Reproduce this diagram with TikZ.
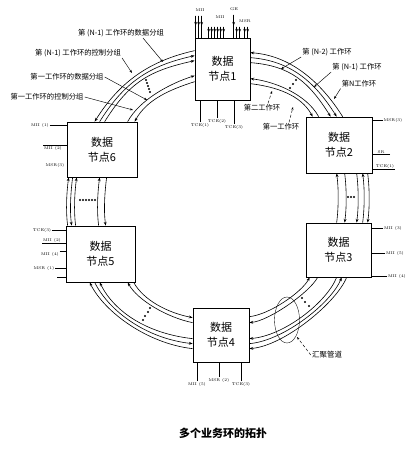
\documentclass[tikz,border=0pt]{standalone}
\usepackage{fontspec}
\newfontfamily\cjk{Noto Sans CJK SC}
\usetikzlibrary{arrows.meta,calc}

\tikzstyle{data node}=[draw, line width=0.7pt, inner sep=0pt, align=center, font=\cjk\fontsize{11}{15}\selectfont]
\tikzstyle{link}=[line width=0.6pt, >={Stealth[length=3.8pt,width=2.8pt]}]
\tikzstyle{port}=[font=\fontsize{4}{5}\selectfont, inner sep=0.6pt]
\tikzstyle{ring label}=[font=\cjk\fontsize{7.3}{8}\selectfont, inner sep=1pt]
\tikzstyle{leader}=[line width=0.45pt, -{Stealth[length=3pt,width=2.2pt]}]

\begin{document}
\begin{tikzpicture}[x=1pt, y=-1pt]
	\useasboundingbox (0,0) rectangle (415,450);

	% Data nodes of the ring
	\node[data node, minimum width=55pt, minimum height=62pt] (n1) at (222.5, 69) {数据\\节点1};
	\node[data node, minimum width=66pt, minimum height=56pt] (n2) at (339, 145) {数据\\节点2};
	\node[data node, minimum width=65pt, minimum height=54pt] (n3) at (338.5, 250) {数据\\节点3};
	\node[data node, minimum width=56pt, minimum height=54pt] (n4) at (221, 335) {数据\\节点4};
	\node[data node, minimum width=69pt, minimum height=56pt] (n5) at (100.5, 254) {数据\\节点5};
	\node[data node, minimum width=70pt, minimum height=55pt] (n6) at (102, 149.5) {数据\\节点6};

	% Node 6 -- node 1
	\foreach \a/\b in {33/18, 38/23}
		\draw[link,->] ($(n6.north west)+(\a,0)$) .. controls +(25,-40) and +(-45,10) .. ($(n1.north west)+(0,\b)$);
	\draw[link,<-] ($(n6.north west)+(28,0)$) .. controls +(25,-40) and +(-45,10) .. ($(n1.north west)+(0,13)$);
	\draw[link,->] ($(n6.north west)+(61,0)$) .. controls +(12,-22) and +(-25,8) .. ($(n1.north west)+(0,38)$);
	\draw[link,<-] ($(n6.north west)+(68,0)$) .. controls +(12,-22) and +(-25,8) .. ($(n1.north west)+(0,44)$);

	% Node 1 -- node 2
	\foreach \a/\b in {20/31, 25/25}
		\draw[link,->] ($(n1.north east)+(0,\a)$) .. controls +(40,3) and +(-22,-35) .. ($(n2.north west)+(\b,0)$);
	\draw[link,<-] ($(n1.north east)+(0,15)$) .. controls +(40,3) and +(-22,-35) .. ($(n2.north west)+(37,0)$);
	\draw[link,<-] ($(n1.north east)+(0,41)$) .. controls +(25,3) and +(-12,-22) .. ($(n2.north west)+(13,0)$);
	\draw[link,->] ($(n1.north east)+(0,46)$) .. controls +(25,3) and +(-12,-22) .. ($(n2.north west)+(7,0)$);

	% Node 2 -- node 3
	\foreach \a in {39, 51, 62}
		\draw[link,->] ($(n2.south west)+(\a,0)$) .. controls +(2,15) and +(2,-15) .. ($(n3.north west)+(\a,0)$);
	\foreach \a in {31, 57}
		\draw[link,<-] ($(n2.south west)+(\a,0)$) .. controls +(2,15) and +(2,-15) .. ($(n3.north west)+(\a,0)$);

	% Node 6 -- node 5
	\foreach \a in {6, 40}
		\draw[link,->] ($(n6.south west)+(\a,0)$) .. controls +(-2,15) and +(-2,-15) .. ($(n5.north west)+(\a,0)$);
	\foreach \a in {2, 10, 33}
		\draw[link,<-] ($(n6.south west)+(\a,0)$) .. controls +(-2,15) and +(-2,-15) .. ($(n5.north west)+(\a,0)$);

	% Node 5 -- node 4
	\foreach \a/\b in {24/41, 34/31}
		\draw[link,<-] ($(n5.south west)+(\a,0)$) .. controls +(15,30) and +(-45,-5) .. ($(n4.north west)+(0,\b)$);
	\draw[link,->] ($(n5.south west)+(29,0)$) .. controls +(15,30) and +(-45,-5) .. ($(n4.north west)+(0,36)$);
	\draw[link,->] ($(n5.south west)+(68,0)$) .. controls +(10,18) and +(-25,-5) .. ($(n4.north west)+(0,10)$);
	\draw[link,<-] ($(n5.south west)+(62,0)$) .. controls +(10,18) and +(-25,-5) .. ($(n4.north west)+(0,15)$);

	% Node 4 -- node 3
	\foreach \a in {31, 41}
		\draw[link,<-] ($(n4.north east)+(0,\a)$) .. controls +(35,-3) and +(-10,25) .. ($(n3.south west)+(\a,0)$);
	\draw[link,->] ($(n4.north east)+(0,36)$) .. controls +(35,-3) and +(-10,25) .. ($(n3.south west)+(36,0)$);
	\draw[link,->] ($(n4.north east)+(0,9)$) .. controls +(20,-2) and +(-8,15) .. ($(n3.south west)+(4,0)$);
	\draw[link,<-] ($(n4.north east)+(0,15)$) .. controls +(20,-2) and +(-8,15) .. ($(n3.south west)+(12,0)$);

	% Dots between the bundles
	\foreach \x/\y in {146/80, 147/83, 148/86, 149/89, 150/92, 296/80, 293/84, 290/88, 348/197, 351/197, 354/197,
		80/200, 83/200, 86/200, 89/200, 92/200, 95/200, 143/320, 145/316, 148/312, 150/308, 302/298, 305/302, 309/306}
		\fill (\x,\y) circle (1.1pt);

	% Converging pipe
	\draw[line width=0.35pt] (287,320) ellipse (12.5pt and 23pt);
	\coordinate (pipe) at (297,337);
	\node[ring label, font=\cjk\fontsize{7.5}{8}\selectfont] (pipelabel) at (327,355) {汇聚管道};
	\draw[leader, densely dashed] (pipelabel.west) -- (pipe);

	% Labels of the packet groups
	\node[ring label] (l1) at (121,33) {第 (N-1) 工作环的数据分组};
	\node[ring label] (l2) at (78,53) {第 (N-1) 工作环的控制分组};
	\node[ring label] (l3) at (67,77) {第一工作环的数据分组};
	\node[ring label] (l4) at (47,97) {第一工作环的控制分组};
	\coordinate (t1) at (163,62);
	\coordinate (t2) at (132,73);
	\coordinate (t3) at (147,100);
	\coordinate (t4) at (133,110);
	\draw[leader] ($(l1.south)+(22,0)$) -- (t1);
	\draw[leader] (l2.south east) -- (t2);
	\draw[leader] (l3.east) -- (t3);
	\draw[leader] (l4.east) -- (t4);

	% Labels of the working rings
	\node[ring label] (r1) at (327,52) {第 (N-2) 工作环};
	\node[ring label] (r2) at (357,67) {第 (N-1) 工作环};
	\node[ring label] (r3) at (359,84) {第N工作环};
	\node[ring label] (r4) at (262,108) {第二工作环};
	\node[ring label] (r5) at (281,127) {第一工作环};
	\coordinate (u1) at (281,69);
	\coordinate (u2) at (314,87);
	\coordinate (u3) at (334,99);
	\coordinate (u4) at (272,91);
	\coordinate (u5) at (293,107);
	\draw[leader] (r1.south west) -- (u1);
	\draw[leader] (r2.south west) -- (u2);
	\draw[leader] (r3.south west) -- (u3);
	\draw[leader, densely dashed] ($(r4.north)+(6,0)$) -- (u4);
	\draw[leader, densely dashed] ($(r5.north)+(8,0)$) -- (u5);

	% Ports of node 1
	\node[port] (mii1) at (200,10) {MII};
	\node[port] (mii2) at (220,17) {MII};
	\node[port] (ge) at (234,9) {GE};
	\node[port] (msr1) at (245,21) {MSR};
	\foreach \a in {1,4,7}{
		\draw[link] ($(n1.north west)+(\a,-22)$) -- ($(n1.north west)+(\a,0)$);
		\draw[link,->] ($(n1.north west)+(\a,-22)$) -- ($(n1.north west)+(\a,-12)$);
	}
	\foreach \a in {14,17,...,29, 42,45,50,53}{
		\draw[link] ($(n1.north west)+(\a,-11)$) -- ($(n1.north west)+(\a,0)$);
		\draw[link,->] ($(n1.north west)+(\a,-11)$) -- ($(n1.north west)+(\a,-5)$);
	}
	\draw[link] ($(n1.north west)+(39,-23)$) -- ($(n1.north west)+(39,0)$);
	\draw[link,->] ($(n1.north west)+(39,-23)$) -- ($(n1.north west)+(39,-12)$);
	\node[port] (tce1) at (200,125) {TCE(1)};
	\node[port] (tce2) at (217,121) {TCE(2)};
	\node[port] (tce3) at (234,127) {TCE(3)};
	\foreach \p in {tce1, tce2, tce3}
		\draw[link] (\p.north) -- (\p.north |- n1.south);

	% Ports of node 2
	\node[port] (msr3) at (393,120) {MSR(3)};
	\node[port] (sr) at (381,152) {SR};
	\node[port] (tce4) at (385,166) {TCE(1)};
	\draw[link] (msr3.west) -- (msr3.west -| n2.east);
	\draw[link] ($(sr.south east)+(5,0)$) -- (sr.south east -| n2.east);
	\draw[link] (tce4.south east) -- (tce4.south east -| n2.east);

	% Ports of node 3
	\node[port] (mii3) at (393,228) {MII (3)};
	\node[port] (mii4) at (395,253) {MII (5)};
	\node[port] (mii5) at (397,276) {MII (4)};
	\foreach \p in {mii3, mii4, mii5}
		\draw[link] (\p.west) -- (\p.west -| n3.east);

	% Ports of node 4
	\node[port] (mii6) at (197,384) {MII (5)};
	\node[port] (msr2) at (219,380) {MSR (2)};
	\node[port] (tce5) at (241,384) {TCE(3)};
	\foreach \p in {mii6, msr2, tce5}
		\draw[link] (\p.north) -- (\p.north |- n4.south);

	% Ports of node 5
	\node[port] (tce6) at (42,230) {TCE(3)};
	\node[port] (mii7) at (52,240) {MII (2)};
	\node[port] (mii8) at (50,254) {MII (4)};
	\node[port] (msr4) at (44,268) {MSR (1)};
	\draw[link] (tce6.east) -- (tce6.east -| n5.west);
	\draw[link] (mii7.south west) -- (mii7.south west -| n5.west);
	\draw[link] (mii8.north east) -- (mii8.north east -| n5.west);
	\draw[link] (msr4.east) -- (msr4.east -| n5.west);
	\draw[link] ($(n5.south west)+(0,-5)$) -- ++(-9,0);

	% Ports of node 6
	\node[port] (mii9) at (40,125) {MII (1)};
	\node[port] (mii10) at (53,148) {MII (2)};
	\node[port] (msr5) at (55,165) {MSR(3)};
	\draw[link] (mii9.east) -- (mii9.east -| n6.west);
	\draw[link] (mii10.north west) -- (mii10.north west -| n6.west);

	% Caption
	\node[font=\cjk\bfseries\fontsize{11}{13}\selectfont] (caption) at (223,433) {多个业务环的拓扑};
\end{tikzpicture}
\end{document}
